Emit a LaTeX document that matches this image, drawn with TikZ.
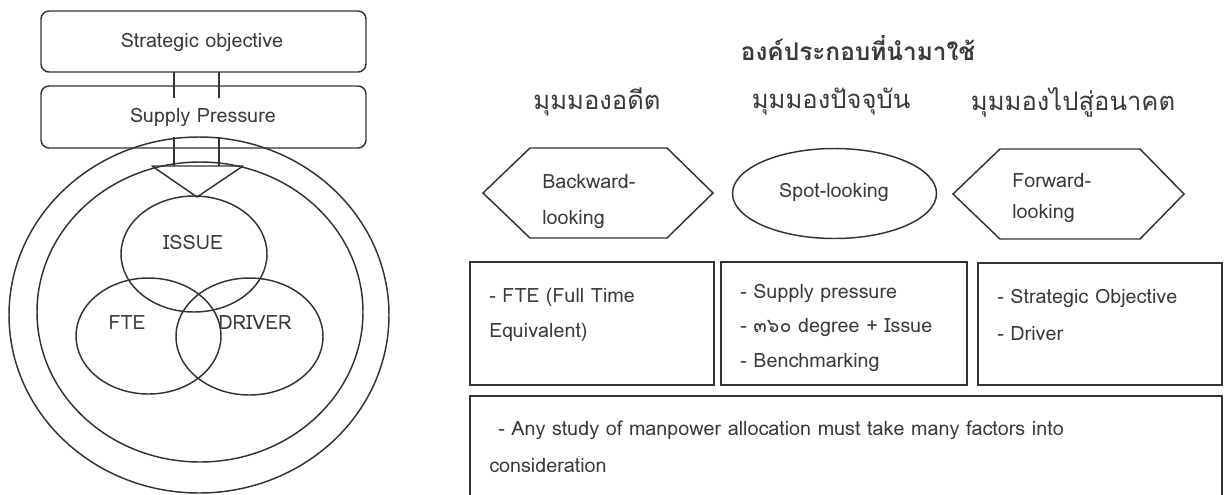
\documentclass[tikz,border=0pt]{standalone}
\usepackage{fontspec}
\setmainfont{Loma}[Script=Thai]
\usetikzlibrary{shapes.geometric,fit}
\definecolor{ink}{HTML}{333333}
\definecolor{txt}{HTML}{3A3A3A}
\tikzset{
  ln/.style={draw=ink,line width=1.1pt},
  rbox/.style={ln,rounded corners=6pt,inner sep=0pt},
  sbox/.style={ln,inner sep=0pt},
  ell/.style={ln,ellipse,inner sep=0pt},
  lbl/.style={text=txt,font=\fontsize{14.8}{16}\selectfont,inner sep=0pt},
  lline/.style={text=txt,font=\fontsize{14.8}{16}\selectfont,inner sep=0pt,anchor=west},
  head/.style={text=txt,font=\fontsize{19.2}{21}\selectfont,inner sep=0pt},
}
\begin{document}
\begin{tikzpicture}[x=0.75pt,y=-0.75pt]
\useasboundingbox (0,0) rectangle (1227,494);
% ---- left side ----
\node[rbox,fit={(41,11)(366,72)}] (so) {};
\node[lbl] (sot) at (202,42) {Strategic objective};
\node[rbox,fit={(41,86)(366,148)}] (sp) {};
\node[lbl] (spt) at (203,117) {Supply Pressure};
% outer circles
\node[ell,minimum width=285pt,minimum height=267pt] (outer) at (199,315) {};
\node[ell,minimum width=244.5pt,minimum height=225pt] (inner) at (200,312) {};
% venn
\node[ell,minimum width=109.5pt,minimum height=87pt] (issue) at (194,254) {};
\node[ell,minimum width=108.75pt,minimum height=87pt] (fte) at (148.5,336) {};
\node[ell,minimum width=110.25pt,minimum height=87.75pt] (driver) at (249.5,336.5) {};
\node[lbl] (issuet) at (193,242) {ISSUE};
\node[lbl] (ftet) at (127,323) {FTE};
\node[lbl] (drivert) at (255,323) {DRIVER};
% block arrow
\coordinate (a1) at (174,72);
\coordinate (a2) at (219,72);
\coordinate (b1) at (174,98);
\coordinate (b2) at (219,98);
\coordinate (c1) at (174,137);
\coordinate (c2) at (219,137);
\coordinate (d1) at (174,166);
\coordinate (d2) at (219,166);
\coordinate (t1) at (152,166);
\coordinate (t2) at (243,166);
\coordinate (tip) at (197,197);
\draw[ln] (a1) -- (b1) (a2) -- (b2);
\draw[ln] (c1) -- (d1) (c2) -- (d2);
\draw[ln,line join=round] (t1) -- (t2) -- (tip) -- cycle;
% ---- right side ----
\node[head,font=\fontsize{18.3}{21}\selectfont\bfseries] (title) at (858,48) {องค์ประกอบที่นำมาใช้};
\node[head] (h1) at (597,102) {มุมมองอดีต};
\node[head] (h2) at (831,102) {มุมมองปัจจุบัน};
\node[head] (h3) at (1073,102) {มุมมองไปสู่อนาคต};
% shapes
\draw[ln] (483,193) -- (530,148) -- (667,148) -- (713,193) -- (667,238) -- (530,238) -- cycle;
\node[lline] (bw1) at (542,181) {Backward-};
\node[lline] (bw2) at (542,219) {looking};
\node[ell,minimum width=153pt,minimum height=67.5pt] (spot) at (834.5,193.5) {};
\node[lbl] (spott) at (834,192) {Spot-looking};
\draw[ln] (953,194) -- (1000,149) -- (1140,149) -- (1184,194) -- (1140,239) -- (1000,239) -- cycle;
\node[lline] (fw1) at (1012,180) {Forward-};
\node[lline] (fw2) at (1012,213) {looking};
% boxes
\node[sbox,fit={(470,262)(714,385)}] (box1) {};
\node[sbox,fit={(721,262)(967,385)}] (box2) {};
\node[sbox,fit={(978,263)(1222,385)}] (box3) {};
\node[sbox,fit={(470,396)(1222,500)}] (box4) {};
\node[lline] (b1l1) at (489,297) {- FTE (Full Time};
\node[lline] (b1l2) at (489,332) {Equivalent)};
\node[lline] (b2l1) at (740,293) {- Supply pressure};
\node[lline] (b2l2) at (740,327) {- ๓๖๐ degree + Issue};
\node[lline] (b2l3) at (740,362) {- Benchmarking};
\node[lline] (b3l1) at (997,298) {- Strategic Objective};
\node[lline] (b3l2) at (997,333) {- Driver};
\node[lline] (b4l1) at (498,430) {- Any study of manpower allocation must take many factors into};
\node[lline] (b4l2) at (489,465) {consideration};
\end{tikzpicture}
\end{document}
